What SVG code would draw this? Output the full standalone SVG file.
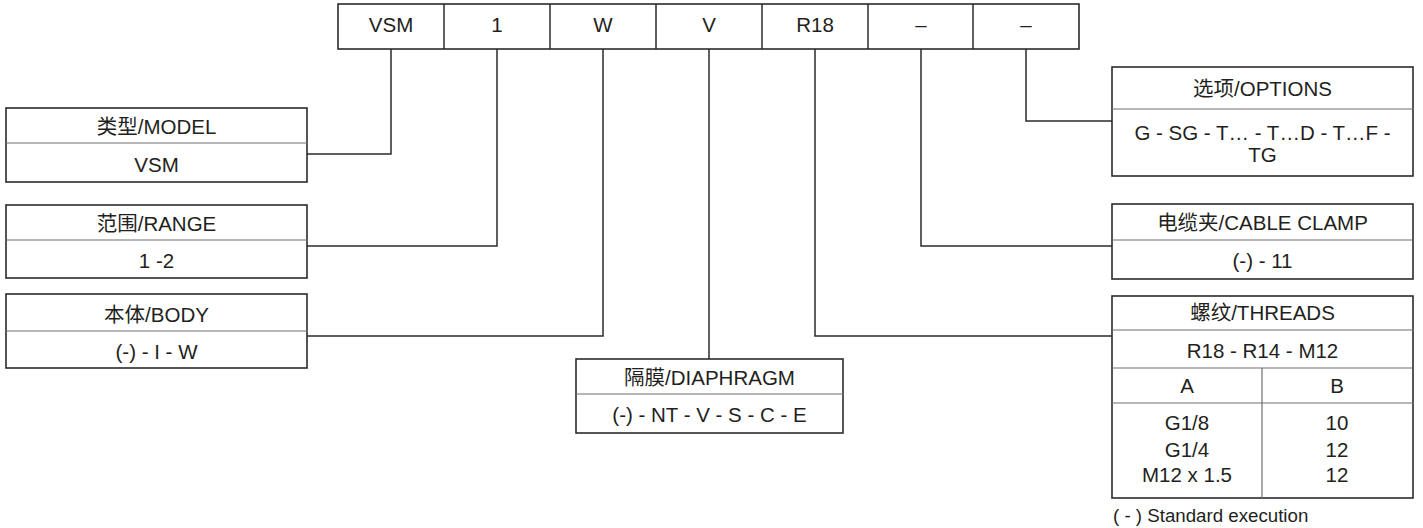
<svg xmlns="http://www.w3.org/2000/svg" width="1423" height="528" viewBox="0 0 1423 528">
<style>
text{font-family:"Liberation Sans","Noto Sans CJK SC",sans-serif;font-size:20.5px;fill:#231f20;text-anchor:middle}
.box{fill:#fff;stroke:#2b2b2b;stroke-width:1.6}
.div{stroke:#6e6e6e;stroke-width:1.2}
.con{fill:none;stroke:#2b2b2b;stroke-width:1.5}
.note{text-anchor:start;font-size:18.7px}
</style>
<rect width="1423" height="528" fill="#fff"/>
<g id="code">
<rect class="box" x="338" y="4" width="741" height="45"/>
<line class="con" x1="444" y1="4" x2="444" y2="49"/>
<line class="con" x1="550" y1="4" x2="550" y2="49"/>
<line class="con" x1="656" y1="4" x2="656" y2="49"/>
<line class="con" x1="762" y1="4" x2="762" y2="49"/>
<line class="con" x1="868" y1="4" x2="868" y2="49"/>
<line class="con" x1="973" y1="4" x2="973" y2="49"/>
<text x="391" y="32">VSM</text>
<text x="497" y="32">1</text>
<text x="603" y="32">W</text>
<text x="709" y="32">V</text>
<text x="815" y="32">R18</text>
<text x="921" y="32">–</text>
<text x="1026" y="32">–</text>
</g>
<g id="connectors">
<polyline class="con" points="391,49 391,154 307,154"/>
<polyline class="con" points="497,49 497,246 307,246"/>
<polyline class="con" points="603,49 603,336 307,336"/>
<polyline class="con" points="709,49 709,359"/>
<polyline class="con" points="815,49 815,336 1112,336"/>
<polyline class="con" points="921,49 921,246 1112,246"/>
<polyline class="con" points="1026,49 1026,121 1112,121"/>
</g>
<g id="model">
<rect class="box" x="6" y="108" width="301" height="74"/>
<line class="div" x1="6" y1="143" x2="308" y2="143"/>
<text x="156.5" y="134">类型/MODEL</text>
<text x="156.5" y="172">VSM</text>
</g>
<g id="range">
<rect class="box" x="6" y="205" width="301" height="73"/>
<line class="div" x1="6" y1="240" x2="308" y2="240"/>
<text x="156.5" y="231">范围/RANGE</text>
<text x="156.5" y="268">1 -2</text>
</g>
<g id="body">
<rect class="box" x="6" y="294" width="301" height="74"/>
<line class="div" x1="6" y1="331" x2="308" y2="331"/>
<text x="156.5" y="322">本体/BODY</text>
<text x="156.5" y="359">(-) - I - W</text>
</g>
<g id="diaphragm">
<rect class="box" x="576" y="359" width="267" height="74"/>
<line class="div" x1="576" y1="394" x2="844" y2="394"/>
<text x="709.5" y="385">隔膜/DIAPHRAGM</text>
<text x="709.5" y="422">(-) - NT - V - S - C - E</text>
</g>
<g id="options">
<rect class="box" x="1112" y="67" width="301" height="109"/>
<line class="div" x1="1112" y1="109" x2="1414" y2="109"/>
<text x="1262.5" y="96">选项/OPTIONS</text>
<text x="1262.5" y="140">G - SG - T… - T…D - T…F -</text>
<text x="1262.5" y="162">TG</text>
</g>
<g id="cable-clamp">
<rect class="box" x="1112" y="204" width="301" height="75"/>
<line class="div" x1="1112" y1="240" x2="1414" y2="240"/>
<text x="1262.5" y="230">电缆夹/CABLE CLAMP</text>
<text x="1262.5" y="268">(-) - 11</text>
</g>
<g id="threads">
<rect class="box" x="1112" y="296" width="301" height="202"/>
<line class="div" x1="1112" y1="330" x2="1414" y2="330"/>
<line class="div" x1="1112" y1="368" x2="1414" y2="368"/>
<line class="div" x1="1112" y1="403" x2="1414" y2="403"/>
<line class="div" x1="1262" y1="368" x2="1262" y2="498"/>
<text x="1262.5" y="320">螺纹/THREADS</text>
<text x="1262.5" y="358">R18 - R14 - M12</text>
<text x="1187" y="393">A</text>
<text x="1337" y="393">B</text>
<text x="1187" y="430">G1/8</text>
<text x="1187" y="457">G1/4</text>
<text x="1187" y="482">M12 x 1.5</text>
<text x="1337" y="430">10</text>
<text x="1337" y="457">12</text>
<text x="1337" y="482">12</text>
</g>
<text class="note" x="1113" y="522">( - ) Standard execution</text>
</svg>
